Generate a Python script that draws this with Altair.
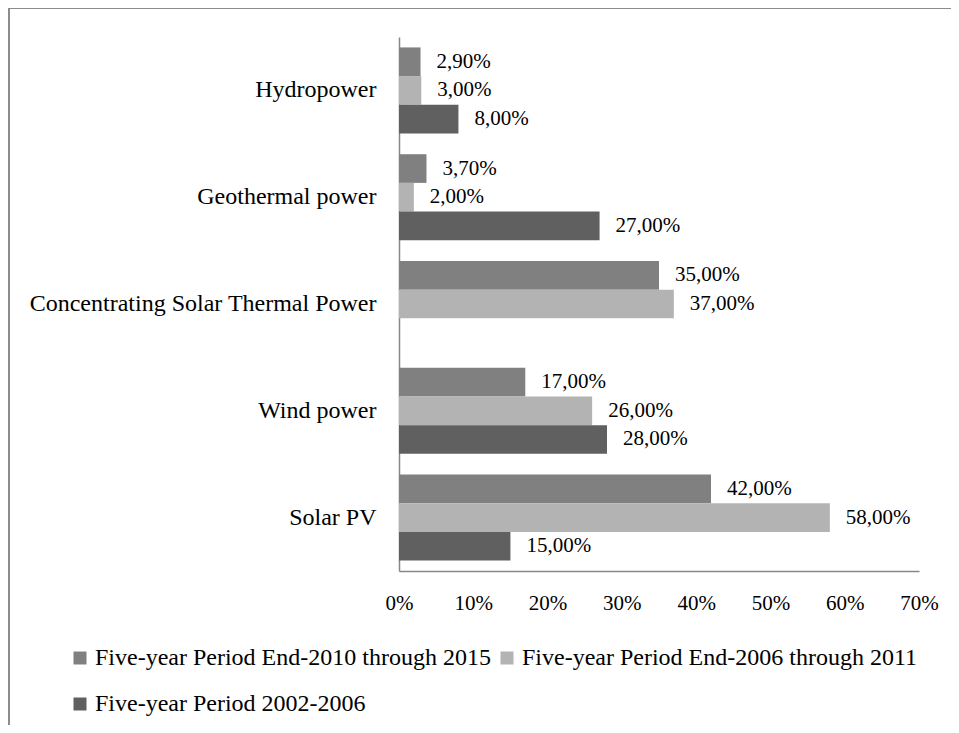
import altair as alt
import pandas as pd

categories = ["Hydropower", "Geothermal power", "Concentrating Solar Thermal Power",
              "Wind power", "Solar PV"]
series = ["Five-year Period End-2010 through 2015",
          "Five-year Period End-2006 through 2011",
          "Five-year Period 2002-2006"]
end2010 = [2.9, 3.7, 35.0, 17.0, 42.0]
end2006 = [3.0, 2.0, 37.0, 26.0, 58.0]
p2002 = [8.0, 27.0, None, 28.0, 15.0]
colors = ["#808080", "#b3b3b3", "#606060"]
x_ticks = [0, 10, 20, 30, 40, 50, 60, 70]

rows = []
for s, vals in zip(series, [end2010, end2006, p2002]):
    for c, v in zip(categories, vals):
        if v is None:
            continue
        rows.append({"category": c, "series": s, "value": v,
                     "label": f"{v:.2f}".replace(".", ",") + "%"})
df = pd.DataFrame(rows)

FONT = "'Liberation Serif', 'Times New Roman', serif"
W, H = 520, 534
PAD = {"left": 391, "top": 29, "right": 32, "bottom": 154}

base = alt.Chart(df).encode(
    y=alt.Y("category:N", sort=categories,
            scale=alt.Scale(paddingInner=0.195, paddingOuter=0.0975),
            axis=alt.Axis(title=None, ticks=False, labelFontSize=24, labelPadding=23,
                          labelFont=FONT, labelColor="black", domainColor="#888888",
                          domainWidth=1.5, labelLimit=0)),
    yOffset=alt.YOffset("series:N", sort=series,
                        scale=alt.Scale(domain=series, paddingInner=0, paddingOuter=0)),
)

bars = base.mark_bar().encode(
    x=alt.X("value:Q", scale=alt.Scale(domain=[0, 70], nice=False),
            axis=alt.Axis(values=x_ticks, labelExpr="datum.value + '%'", title=None,
                          grid=False, ticks=False, labelFontSize=21, labelFont=FONT,
                          labelColor="black", labelPadding=21, domainColor="#888888",
                          domainWidth=1.5, labelFlush=False, labelOverlap=False)),
    color=alt.Color("series:N", sort=series,
                    scale=alt.Scale(domain=series, range=colors),
                    legend=alt.Legend(orient="none", legendX=-331, legendY=609,
                                      columns=2, direction="horizontal", title=None,
                                      symbolType="square", symbolSize=169,
                                      symbolStrokeWidth=0, symbolOpacity=1,
                                      labelFontSize=24, labelFont=FONT,
                                      labelColor="black", labelOffset=3,
                                      labelLimit=0,
                                      columnPadding=4, rowPadding=22)),
)

texts = base.mark_text(align="left", baseline="middle", dx=16, fontSize=21,
                       font=FONT, color="black").encode(
    x=alt.X("value:Q"),
    text=alt.Text("label:N"),
)

frame_df = pd.DataFrame({"a": [0]})
frame_top = alt.Chart(frame_df).mark_rule(color="#8c8c8c", strokeWidth=2).encode(
    x=alt.value(-391), x2=alt.value(W + PAD["right"]), y=alt.value(-29))
frame_left = alt.Chart(frame_df).mark_rule(color="#8c8c8c", strokeWidth=2).encode(
    x=alt.value(-390), y=alt.value(-29), y2=alt.value(H + PAD["bottom"]))

chart = alt.layer(frame_top, frame_left, bars, texts).properties(
    width=W, height=H, padding=PAD, autosize=alt.AutoSizeParams(type="none"),
    background="white",
).configure_view(stroke=None)

chart.save("out.html", embed_options={"renderer": "svg", "actions": False})
